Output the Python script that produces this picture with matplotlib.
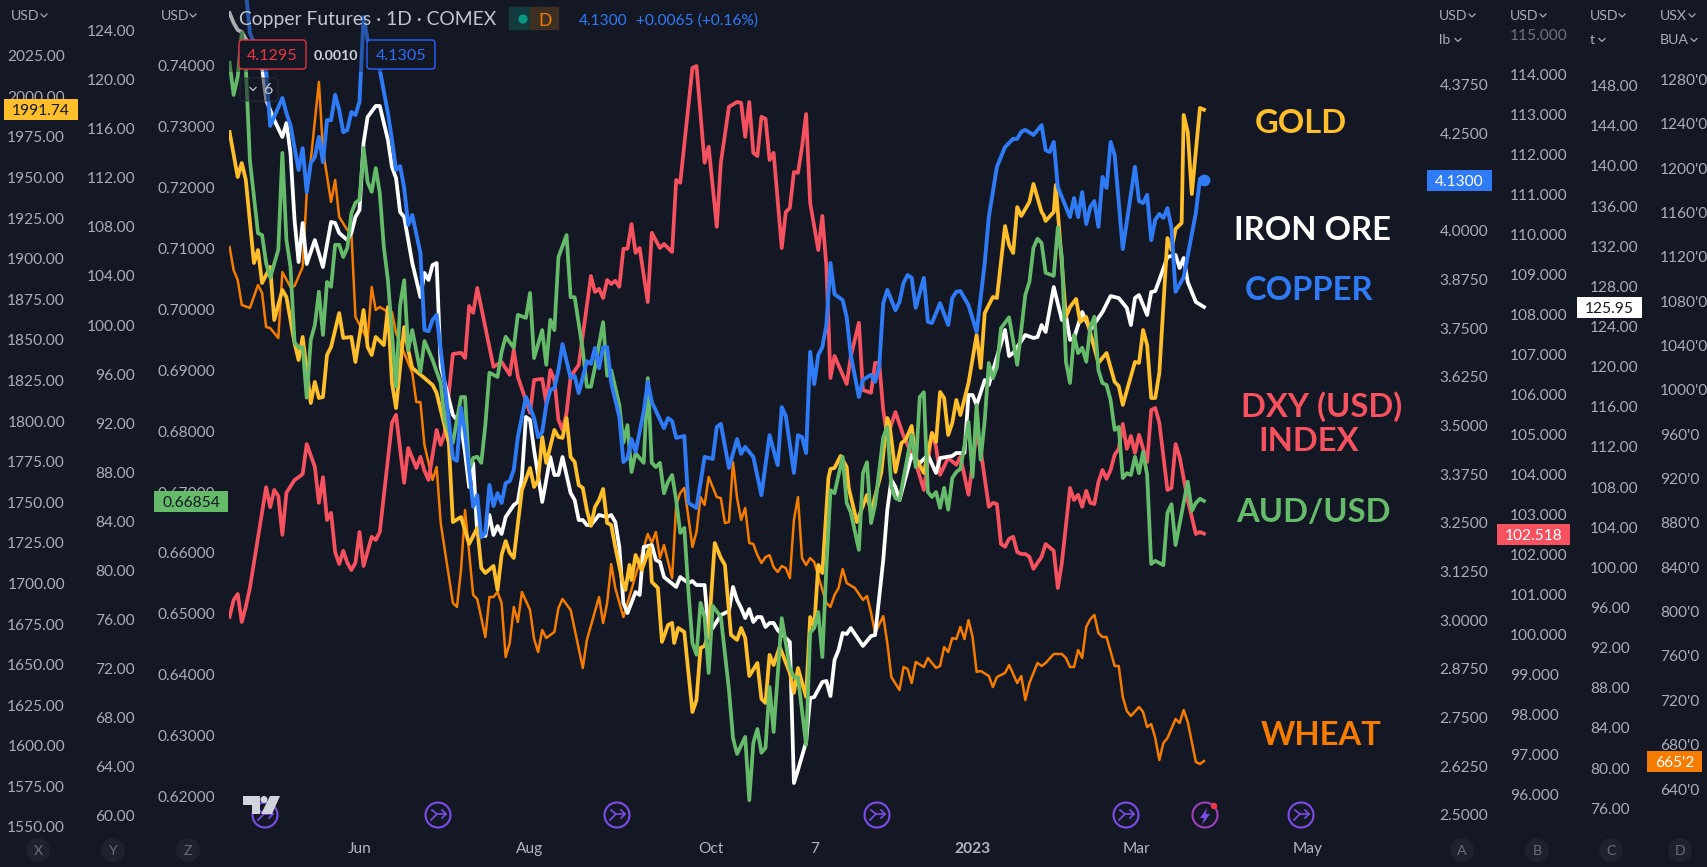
import numpy as np
import matplotlib
matplotlib.use("Agg")
import matplotlib.pyplot as plt
from matplotlib.patches import Rectangle, Circle, FancyBboxPatch, Polygon

# each series: (trading day counted from 1 Jun 2022, close on its own price scale)
dxy = np.array([
    (-32,100.44),(-31,100.86),(-30,101.01),(-29,100.31),(-28,100.69),(-27,101.16),(-23,103.68),(-22,103.18),
    (-21,103.61),(-20,103.46),(-19,102.49),(-18,103.54),(-16,103.86),(-15,103.93),(-14,104.01),(-13,104.76),
    (-11,104.19),(-10,103.29),(-9,103.93),(-8,102.86),(-7,103.04),(-6,102.06),(-5,101.76),(-4,102.09),
    (-3,101.79),(-2,101.61),(-1,101.79),(0,102.56),(1,101.71),(3,102.44),(4,102.36),(5,102.56),(8,105.29),
    (9,105.49),(11,103.79),(12,104.66),(14,104.16),(15,104.44),(16,104.09),(17,103.86),(19,105.11),(20,104.74),
    (21,105.04),(23,107.01),(25,107.04),(26,106.91),(27,108.21),(28,108.04),(29,108.66),(33,106.69),(35,106.81),
    (37,106.49),(38,107.11),(39,106.44),(42,105.54),(43,106.36),(45,106.39),(46,105.79),(47,106.61),(48,106.36),
    (49,105.36),(50,105.11),(51,105.54),(52,106.44),(54,106.74),(57,108.96),(58,108.56),(59,108.64),(60,108.41),
    (61,108.86),(62,108.76),(63,108.84),(64,108.69),(65,109.64),(66,109.64),(67,110.26),(68,109.54),(69,109.66),
    (71,108.31),(72,110.04),(74,109.66),(75,109.76),(77,109.56),(78,111.36),(79,111.29),(82,114.16),(83,114.21),
    (85,111.79),(86,112.19),(88,110.19),(89,111.79),(91,113.19),(93,113.31),(94,113.29),(95,112.44),(96,113.31),
    (97,112.04),(98,111.96),(99,112.94),(100,112.89),(101,111.86),(102,112.04),(104,109.66),(105,110.56),
    (106,110.66),(107,111.56),(108,111.54),(109,112.19),(110,113.01),(111,110.79),(113,109.61),(114,110.46),
    (115,109.19),(116,106.41),(117,106.96),(120,106.26),(121,106.94),(123,107.79),(124,106.11),(126,106.04),
    (127,106.79),(128,106.79),(129,105.61),(130,104.94),(132,105.56),(134,104.96),(137,104.29),(139,103.61),
    (141,105.04),(142,104.69),(143,103.99),(145,104.41),(147,104.24),(148,104.44),(150,103.49),(152,105.04),
    (153,104.61),(155,103.19),(156,103.29),(157,103.26),(158,102.26),(159,102.19),(160,102.39),(161,102.44),
    (162,102.06),(163,102.01),(164,102.01),(165,101.94),(166,101.64),(168,101.94),(169,102.26),(171,102.09),
    (172,101.16),(173,101.79),(175,103.66),(176,103.36),(177,103.49),(178,103.19),(179,103.59),(180,103.29),
    (181,103.26),(182,103.81),(183,104.11),(184,103.89),(185,104.11),(186,104.49),(187,104.64),(188,105.26),
    (189,104.64),(190,104.96),(191,104.54),(192,104.99),(194,104.31),(195,105.61),(196,105.66),(197,105.29),
    (199,103.61),(200,103.66),(201,104.76),(202,104.44),(204,103.36),(206,102.51),(207,102.56),(208,102.518),
])

audusd = np.array([
    (-32,.7405),(-31,.7352),(-30,.7382),(-29,.7454),(-28,.7398),(-27,.7245),(-25,.7125),(-24,.7122),(-23,.7076),
    (-22,.7052),(-20,.7098),(-19,.7257),(-18,.7114),(-17,.7070),(-16,.6946),(-15,.6937),(-14,.6938),(-13,.6855),
    (-12,.6950),(-11,.6974),(-10,.7029),(-9,.6958),(-8,.7045),(-7,.7037),(-6,.7106),(-5,.7106),(-4,.7086),
    (-3,.7101),(-2,.7158),(-1,.7175),(0,.7180),(1,.7265),(2,.7209),(3,.7193),(4,.7232),(5,.7191),(6,.7102),
    (7,.7048),(9,.6873),(10,.7007),(11,.7048),(12,.6933),(13,.6966),(15,.6897),(16,.6948),(18,.6917),(20,.6879),
    (21,.6818),(23,.6781),(25,.6856),(26,.6856),(27,.6736),(28,.6756),(29,.6758),(30,.6748),(31,.6810),(32,.6896),
    (34,.6889),(35,.6930),(36,.6955),(38,.6937),(39,.6991),(41,.6986),(42,.7027),(43,.6920),(45,.6966),(46,.6909),
    (47,.6983),(48,.6966),(49,.7086),(51,.7122),(52,.7020),(53,.7020),(55,.6933),(56,.6873),(57,.6873),(58,.6905),
    (60,.6979),(61,.6891),(62,.6900),(64,.6843),(65,.6781),(66,.6810),(67,.6733),(68,.6764),(70,.6748),(71,.6887),
    (72,.6748),(73,.6741),(74,.6748),(75,.6698),(76,.6717),(77,.6728),(78,.6687),(79,.6633),(80,.6641),(81,.6539),
    (82,.6452),(83,.6433),(84,.6518),(85,.6495),(86,.6403),(87,.6513),(89,.6495),(91,.6375),(92,.6296),(93,.6270),
    (95,.6298),(96,.6194),(97,.6288),(98,.6311),(99,.6272),(100,.6280),(101,.6380),(102,.6306),(104,.6493),
    (106,.6411),(107,.6396),(108,.6396),(110,.6285),(111,.6469),(112,.6477),(113,.6503),(114,.6429),(115,.6577),
    (116,.6703),(117,.6698),(119,.6758),(120,.6682),(121,.6667),(123,.6605),(124,.6731),(125,.6749),(126,.6649),
    (127,.6679),(129,.6790),(130,.6807),(131,.6708),(132,.6690),(133,.6687),(136,.6794),(137,.6741),(138,.6856),
    (139,.6864),(140,.6700),(141,.6692),(142,.6700),(143,.6674),(144,.6707),(145,.6671),(146,.6723),(147,.6733),
    (148,.6738),(150,.6815),(151,.6725),(152,.6843),(153,.6753),(154,.6818),(155,.6912),(156,.6887),(157,.6905),
    (158,.6969),(160,.6987),(162,.6909),(164,.7024),(165,.7045),(166,.7101),(167,.7116),(168,.7109),(169,.7060),
    (171,.7055),(172,.7135),(173,.7086),(174,.6914),(175,.6879),(176,.6958),(177,.6928),(178,.6937),(179,.6914),
    (180,.6971),(181,.6988),(182,.6900),(183,.6879),(184,.6876),(185,.6851),(186,.6802),(187,.6807),(188,.6723),
    (189,.6731),(190,.6728),(191,.6758),(192,.6731),(193,.6766),(194,.6728),(195,.6582),(196,.6587),(198,.6580),
    (199,.6666),(200,.6680),(201,.6613),(204,.6717),(205,.6669),(206,.6682),(207,.6689),(208,.66854),
])

copper = np.array([
    (-28,4.618),(-27,4.508),(-23,4.413),(-22,4.269),(-19,4.341),(-18,4.302),(-17,4.271),(-15,4.156),(-14,4.212),
    (-13,4.099),(-12,4.174),(-11,4.189),(-10,4.241),(-9,4.176),(-8,4.284),(-7,4.284),(-6,4.349),(-5,4.310),
    (-4,4.253),(-3,4.259),(-2,4.305),(-1,4.297),(0,4.331),(1,4.549),(2,4.490),(5,4.413),(7,4.302),(8,4.233),
    (9,4.156),(10,4.166),(11,4.110),(12,4.015),(13,4.040),(15,3.943),(16,3.745),(17,3.742),(18,3.771),(19,3.784),
    (20,3.694),(22,3.514),(23,3.416),(24,3.409),(25,3.545),(26,3.481),(28,3.291),(29,3.321),(30,3.213),(31,3.224),
    (32,3.347),(33,3.293),(34,3.326),(35,3.301),(36,3.352),(37,3.357),(38,3.386),(39,3.470),(41,3.573),(43,3.519),
    (44,3.470),(45,3.483),(46,3.552),(47,3.591),(48,3.596),(49,3.642),(50,3.709),(52,3.622),(53,3.627),(54,3.583),
    (56,3.665),(57,3.658),(58,3.699),(59,3.647),(60,3.701),(61,3.701),(62,3.609),(64,3.522),(65,3.406),(66,3.416),
    (67,3.465),(68,3.432),(70,3.535),(71,3.612),(72,3.560),(75,3.493),(76,3.519),(77,3.511),(78,3.468),(80,3.473),
    (81,3.301),(83,3.288),(85,3.419),(87,3.414),(88,3.496),(89,3.504),(91,3.391),(93,3.465),(94,3.427),(95,3.445),
    (97,3.419),(99,3.321),(101,3.475),(103,3.398),(104,3.547),(105,3.524),(107,3.378),(108,3.475),(109,3.470),
    (110,3.429),(111,3.689),(112,3.606),(113,3.681),(114,3.701),(115,3.758),(116,3.917),(117,3.837),(119,3.822),
    (120,3.778),(121,3.681),(123,3.573),(124,3.617),(126,3.630),(127,3.612),(128,3.650),(129,3.814),(130,3.848),
    (132,3.796),(133,3.817),(134,3.866),(135,3.886),(136,3.879),(137,3.802),(139,3.879),(140,3.766),(141,3.763),
    (143,3.814),(145,3.758),(146,3.827),(147,3.843),(148,3.845),(150,3.809),(152,3.740),(154,3.917),(155,4.035),
    (157,4.164),(159,4.215),(161,4.236),(162,4.236),(163,4.254),(164,4.259),(166,4.246),(168,4.271),(169,4.207),
    (170,4.202),(171,4.228),(172,4.112),(175,4.035),(176,4.084),(177,4.035),(178,4.099),(179,4.017),(180,4.061),
    (181,4.076),(182,4.010),(183,4.138),(184,4.110),(185,4.228),(186,4.194),(188,3.953),(191,4.164),(192,4.076),
    (193,4.071),(194,4.092),(195,3.976),(196,4.028),(197,4.043),(198,4.033),(199,4.058),(200,4.007),(201,3.843),
    (203,3.881),(206,4.046),(207,4.133),(208,4.130),
])

iron_ore = np.array([
    (-32,155.24),(-31,154.25),(-30,153.55),(-29,153.35),(-24,149.86),(-23,146.58),(-21,144.58),(-19,142.89),
    (-18,144.28),(-17,141.29),(-16,134.62),(-15,130.43),(-14,134.32),(-13,130.23),(-11,132.62),(-9,129.93),
    (-7,134.42),(-6,134.32),(-5,133.32),(-3,132.62),(-2,133.32),(-1,134.92),(0,135.61),(1,142.29),(2,144.88),
    (4,145.98),(5,145.98),(7,142.59),(8,139.90),(9,138.80),(10,135.41),(11,134.92),(13,130.33),(14,128.64),
    (15,126.94),(16,129.34),(17,128.64),(18,130.13),(19,130.33),(20,119.97),(23,115.19),(25,114.19),(26,111.40),
    (27,108.01),(28,110.40),(29,103.43),(31,103.13),(32,105.22),(33,103.23),(34,104.12),(35,103.33),(36,105.02),
    (38,106.22),(39,106.52),(40,109.01),(41,114.99),(42,114.69),(43,111.70),(45,106.52),(46,108.71),(47,111.00),
    (48,109.21),(49,109.21),(50,111.00),(52,107.41),(53,106.71),(54,104.72),(55,104.72),(56,104.22),(57,104.22),
    (59,105.22),(61,105.02),(62,105.22),(63,104.52),(64,102.03),(65,96.45),(66,95.45),(68,97.55),(69,97.25),
    (70,102.03),(72,102.23),(73,100.74),(74,100.54),(75,99.04),(78,98.05),(79,99.04),(81,98.44),(82,98.64),
    (83,98.24),(85,98.24),(86,93.56),(87,93.96),(89,95.25),(91,95.65),(92,98.05),(93,96.75),(94,95.95),(95,94.96),
    (96,95.85),(97,94.56),(98,95.05),(99,95.05),(100,94.06),(101,94.46),(102,94.46),(103,93.76),(106,92.56),
    (107,78.51),(108,79.81),(110,82.60),(111,86.98),(112,87.08),(114,88.58),(115,88.68),(116,87.18),(117,90.77),
    (118,91.77),(119,93.46),(120,93.36),(121,93.96),(124,92.17),(126,93.16),(127,93.26),(129,100.74),(130,105.72),
    (131,108.71),(132,108.01),(133,106.71),(136,111.20),(137,110.70),(138,110.40),(140,111.20),(142,109.41),
    (143,110.90),(146,111.10),(147,111.40),(149,111.40),(150,117.18),(151,117.18),(152,116.18),(154,118.67),
    (155,118.18),(157,120.97),(159,123.66),(160,121.06),(161,121.36),(164,123.16),(166,122.86),(167,122.96),
    (168,124.15),(169,123.46),(171,127.94),(173,124.65),(174,125.15),(175,122.66),(176,122.86),(178,125.45),
    (180,123.66),(183,125.45),(185,127.04),(187,126.84),(189,125.85),(190,124.15),(191,126.84),(192,127.14),
    (194,125.15),(195,127.44),(196,127.54),(197,128.64),(199,130.93),(201,131.13),(202,129.83),(203,130.83),
    (204,128.44),(206,126.45),(208,125.95),
])

gold = np.array([
    (-32,1978.0),(-30,1950.3),(-29,1958.9),(-28,1948.5),(-26,1897.3),(-25,1905.3),(-24,1885.0),(-22,1894.9),
    (-21,1862.2),(-19,1880.7),(-18,1876.4),(-16,1848.1),(-15,1837.6),(-14,1851.8),(-12,1811.1),(-11,1824.1),
    (-10,1814.2),(-9,1814.8),(-8,1840.7),(-7,1845.6),(-5,1866.5),(-4,1851.2),(-2,1851.8),(-1,1836.4),(1,1868.4),
    (2,1845.6),(3,1840.7),(4,1851.8),(6,1846.8),(7,1870.2),(8,1823.4),(9,1808.0),(11,1857.9),(12,1843.8),(13,1832.7),
    (16,1826.5),(18,1822.2),(19,1817.3),(20,1806.8),(22,1786.5),(23,1737.8),(25,1740.9),(27,1724.3),(29,1734.2),
    (30,1709.5),(31,1706.4),(33,1710.8),(34,1696.0),(35,1717.5),(36,1726.1),(37,1718.8),(38,1715.7),(40,1757.5),
    (42,1771.1),(43,1759.4),(44,1763.7),(45,1790.2),(46,1774.2),(48,1794.5),(49,1790.2),(50,1789.6),(51,1801.9),
    (52,1777.9),(53,1774.8),(54,1760.6),(55,1758.8),(56,1745.2),(57,1735.4),(58,1747.1),(59,1751.4),(60,1758.2),
    (61,1737.2),(62,1736.0),(63,1722.4),(64.7,1702.1),(65.5,1696.0),(66.5,1711.4),(67,1702.1),(68,1717.5),
    (69.5,1708.3),(71.5,1722.4),(72,1700.9),(73.5,1697.2),(74.5,1664.0),(76,1674.4),(77,1675.7),(77.5,1663.3),
    (78.5,1672.6),(80,1670.1),(82,1620.8),(83,1628.2),(84,1660.3),(85,1661.5),(86,1669.5),(87.5,1724.9),(89,1715.7),
    (90,1711.4),(91.5,1668.3),(93,1665.2),(94,1672.6),(95,1666.4),(96,1643.0),(98,1651.0),(99,1628.9),(100,1626.4),
    (101,1656.0),(102,1649.8),(103.5,1660.9),(106,1644.9),(107,1632.6),(108,1647.9),(110,1630.1),(111,1679.3),
    (112,1673.2),(113,1711.4),(114,1706.4),(115.5,1765.0),(116,1770.5),(117,1771.1),(118.5,1778.5),(120,1771.7),
    (120.5,1758.8),(122.5,1737.8),(125,1754.5),(126,1744.0),(128.5,1768.0),(130,1801.9),(130.5,1798.8),(132,1768.6),
    (133.5,1786.5),(134.5,1788.3),(136,1797.0),(137,1777.3),(139,1768.0),(141,1792.6),(142,1787.1),(143,1817.9),
    (144,1814.2),(145,1791.4),(146,1798.8),(147,1813.0),(148,1803.7),(150,1823.4),(152,1853.0),(153,1832.7),
    (154,1866.5),(156,1876.4),(157,1875.8),(159,1920.1),(160,1908.4),(161,1903.5),(162,1931.8),(163,1926.3),
    (165,1934.9),(166,1946.0),(168,1928.8),(168.5,1926.9),(169,1923.2),(171,1928.8),(171.5,1945.4),(174,1864.1),
    (175,1870.2),(176.5,1875.2),(177.5,1861.0),(179,1864.1),(180,1854.2),(182,1835.8),(184,1841.9),(186,1824.1),
    (187,1821.6),(188,1809.9),(191,1836.4),(192,1835.8),(193,1856.1),(194,1846.8),(195,1814.2),(196,1814.2),
    (197,1829.6),(199,1912.7),(200,1905.4),(201,1918.3),(202.5,1922.0),(203,1988.5),(204,1978.0),(205,1939.8),
    (207,1992.8),(208,1991.74),
])

wheat = np.array([
    (-32,1128.8),(-31,1108.0),(-30,1099.0),(-29,1076.5),(-27,1073.8),(-25,1094.5),(-24,1087.3),(-23,1056.6),
    (-22,1055.7),(-20,1046.7),(-19,1106.2),(-17,1092.7),(-16,1093.6),(-14,1110.7),(-13,1177.5),(-12,1207.2),
    (-10,1277.6),(-9,1216.2),(-7,1169.4),(-6,1189.2),(-5,1155.8),(-3,1144.1),(-2,1141.4),(-1,1065.7),(2,1045.0),
    (3,1092.7),(4,1072.0),(5,1074.7),(7,1070.2),(8,1070.2),(9,1051.2),(13,1015.2),(14,989.0),(15,989.0),(16,950.2),
    (18,918.7),(19,930.4),(20,879.9),(23,807.8),(24,804.2),(25,837.5),(26,891.6),(28,815.0),(29,811.4),(31,777.1),
    (32,813.2),(33,813.2),(34,817.7),(35,807.8),(36,759.1),(37,771.7),(38,804.2),(39,790.6),(40,817.7),(42,801.5),
    (43,775.3),(44,763.6),(45,783.4),(46,776.2),(48,781.6),(49,803.3),(50,811.4),(52,801.5),(55,749.2),(56,774.4),
    (59,813.2),(60,789.7),(61,807.8),(62,842.9),(63,821.3),(65,795.1),(71,870.0),(72,861.9),(73,871.8),(74,848.3),
    (75,860.1),(77,830.3),(78,896.1),(79,907.0),(80,911.5),(81,885.3),(82,858.3),(83,871.8),(84,903.3),(85,896.1),
    (86,921.4),(88,903.3),(89,902.4),(90,879.9),(91,880.8),(92,934.9),(93,902.4),(94,882.6),(95,893.4),(96,861.9),
    (97,861.0),(98,851.0),(99,843.8),(100,849.2),(101,851.0),(102,840.2),(103,835.7),(104,841.1),(105,839.3),
    (106,830.3),(107,882.6),(108,903.3),(109,848.3),(110,842.0),(111,848.3),(112,844.7),(114,819.5),(115,807.8),
    (116,804.2),(117,815.0),(118,821.3),(119,838.4),(120,825.8),(122,821.3),(124,810.5),(125,814.1),(126,798.8),
    (127,780.7),(129,796.0),(130,771.7),(131,741.0),(133,729.3),(134,750.1),(135,748.3),(136,735.6),(137,754.6),
    (139,750.1),(140,758.2),(142,749.2),(143,751.0),(144,768.1),(145,763.6),(146,776.2),(147,775.3),(148,786.2),
    (149,775.3),(150,792.4),(151,777.1),(152,745.6),(153,746.5),(155,742.0),(156,732.0),(157,741.0),(159,744.7),
    (160,751.9),(162,735.6),(163,742.0),(164,720.3),(165,735.6),(167,753.7),(168,751.0),(169,753.7),(171,761.8),
    (173,761.8),(174,758.2),(175,750.1),(176,750.1),(177,765.4),(178,758.2),(179,786.2),(180,793.3),(181,797.0),
    (182,780.7),(183,777.1),(184,777.1),(186,751.0),(187,751.0),(188,723.0),(189,710.4),(190,705.9),(192,714.0),
    (193,709.5),(194,695.9),(195,698.6),(196,686.0),(197,666.2),(198,681.5),(199,686.0),(201,703.2),(202,699.5),
    (203,711.3),(204,700.5),(206,664.4),(207,662.6),(208,665.25),
])

time_ticks = [0, 42, 86.6, 112.2, 150.9, 191.5, 233.5]
time_labels = ["Jun", "Aug", "Oct", "7", "2023", "Mar", "May"]

gold_ticks = np.arange(1550, 2026, 25)
y_ticks = np.arange(60, 125, 4)
aud_ticks = [0.62, 0.63, 0.64, 0.65, 0.66, 0.67, 0.68, 0.69, 0.70, 0.71, 0.72, 0.73, 0.74]
# 4.1250 sits under the last price tag in the reference
copper_ticks = [2.5, 2.625, 2.75, 2.875, 3.0, 3.125, 3.25, 3.375, 3.5, 3.625, 3.75, 3.875, 4.0, 4.25, 4.375]
dxy_ticks = np.arange(96, 116, 1)
iron_ticks = np.arange(76, 149, 4)
wheat_ticks = np.arange(640, 1281, 40)

BG = "#141824"
TICK = "#A9ACB5"
GOLD = "#FFBF2B"
GREEN = "#66BB6A"
BLUE = "#2F7BF6"
RED = "#F6515F"
ORANGE = "#F57C00"
WHITE = "#FFFFFF"
PURPLE = "#7B4CE8"
FONT = "Lato"

W, H = 1708, 867
PANE_L, PANE_R, PANE_B = 229, 1425, 827

plt.rcParams["font.family"] = FONT
fig = plt.figure(figsize=(W / 100, H / 100), dpi=100, facecolor=BG)
rect = [PANE_L / W, 1 - PANE_B / H, (PANE_R - PANE_L) / W, PANE_B / H]
xlim = ((PANE_L - 359.5) / 4.06, (PANE_R - 359.5) / 4.06)


def scale_axes(ylim, ticks, labels, side, offset_px):
    ax = fig.add_axes(rect, facecolor="none")
    ax.set_xlim(xlim)
    ax.set_ylim(ylim)
    for s in ax.spines.values():
        s.set_visible(False)
    ax.set_xticks([])
    ax.set_yticks(ticks)
    ax.set_yticklabels(labels)
    if side == "right":
        ax.yaxis.tick_right()
    ax.tick_params(axis="y", length=0, pad=offset_px * 0.72, labelsize=11.2, labelcolor=TICK)
    return ax


ax_gold = scale_axes((1550.0, 2059.3), gold_ticks, [f"{v:.2f}" for v in gold_ticks], "left", 164)
ax_y = scale_axes((59.08, 126.5), y_ticks, [f"{v:.2f}" for v in y_ticks], "left", 94)
ax_aud = scale_axes((0.6150, 0.7508), aud_ticks, [f"{v:.5f}" for v in aud_ticks], "left", 14)
ax_copper = scale_axes((2.4688, 4.5925), copper_ticks, [f"{v:.4f}" for v in copper_ticks], "right", 14.5)
ax_dxy = scale_axes((95.185, 115.86), dxy_ticks, [f"{v:.3f}" for v in dxy_ticks], "right", 85)
ax_iron = scale_axes((74.13, 156.54), iron_ticks, [f"{v:.2f}" for v in iron_ticks], "right", 165)
ax_wheat = scale_axes((605.8, 1351.5), wheat_ticks, [f"{v}'0" for v in wheat_ticks], "right", 235)
ax_dxy.get_yticklabels()[-1].set_alpha(0.6)

# draw order follows the platform: wheat at the back, copper in front
ax_wheat.plot(wheat[:, 0], wheat[:, 1], color=ORANGE, lw=1.8, solid_joinstyle="round")
ax_dxy.plot(dxy[:, 0], dxy[:, 1], color=RED, lw=2.7, solid_joinstyle="round")
ax_iron.plot(iron_ore[:, 0], iron_ore[:, 1], color=WHITE, lw=2.7, solid_joinstyle="round")
ax_gold.plot(gold[:, 0], gold[:, 1], color=GOLD, lw=2.7, solid_joinstyle="round")
ax_aud.plot(audusd[:, 0], audusd[:, 1], color=GREEN, lw=2.7, solid_joinstyle="round")
ax_copper.plot(copper[:, 0], copper[:, 1], color=BLUE, lw=2.8, solid_joinstyle="round")
ax_copper.plot(copper[-1, 0], copper[-1, 1], "o", color=BLUE, ms=7.5)

for z, ax in enumerate([ax_y, ax_wheat, ax_dxy, ax_iron]):
    ax.set_zorder(z)
ax_gold.set_zorder(7)
ax_aud.set_zorder(8)
ax_copper.set_zorder(9)

ax_wheat.set_xticks(time_ticks)
ax_wheat.set_xticklabels(time_labels)
ax_wheat.tick_params(axis="x", length=0, pad=11, labelsize=11.2, labelcolor="#B2B5BE")
ax_wheat.get_xticklabels()[4].set_fontweight("bold")

# overlay in screen pixels for the platform furniture
ui = fig.add_axes([0, 0, 1, 1], facecolor="none")
ui.set_xlim(0, W)
ui.set_ylim(H, 0)
ui.axis("off")
ui.set_zorder(20)


def chevron(x, y, c=TICK):
    ui.plot([x - 3, x, x + 3], [y - 1.5, y + 1.5, y - 1.5], color=c, lw=0.9)


for x, cx, label in [(11, 44, "USD"), (161, 193, "USD"), (1439, 1472, "USD"), (1510, 1543, "USD"),
                     (1590, 1622, "USD"), (1660, 1692, "USX")]:
    ui.text(x, 15.5, label, color=TICK, fontsize=10.2, va="center", ha="left")
    chevron(cx, 15.5)
for x, cx, label in [(1439, 1458, "lb"), (1590, 1602, "t"), (1660, 1694, "BUA")]:
    ui.text(x, 40, label, color=TICK, fontsize=10.2, va="center", ha="left")
    chevron(cx, 40)

# last price tags
for x0, x1, y0, y1, col, tc, label in [
    (4, 78, 99, 120, GOLD, BG, "1991.74"), (154, 228, 491, 512, GREEN, BG, "0.66854"),
    (1427, 1492, 170, 191, BLUE, WHITE, "4.1300"), (1497, 1570, 524, 545, RED, WHITE, "102.518"),
    (1577, 1642, 297, 318, WHITE, BG, "125.95"), (1647, 1702, 751, 772, ORANGE, WHITE, "665'2"),
]:
    ui.add_patch(Rectangle((x0, y0), x1 - x0, y1 - y0, fc=col, ec="none"))
    ui.text((x0 + x1) / 2, (y0 + y1) / 2, label, color=tc, fontsize=11.2, ha="center", va="center_baseline")

# legend header
ui.add_patch(Rectangle((229, 0), 280, 72, fc=BG, ec="none", alpha=0.35))
ui.text(239, 20, "Copper Futures · 1D · COMEX", color="#C3C6CE", fontsize=13.9, va="center", ha="left")
ui.add_patch(FancyBboxPatch((513, 11), 21, 15, boxstyle="round,pad=0,rounding_size=0", fc="#133a3c", ec="#133a3c", lw=6))
ui.add_patch(FancyBboxPatch((534, 11), 21, 15, boxstyle="round,pad=0,rounding_size=0", fc="#3d2f22", ec="#3d2f22", lw=6))
ui.add_patch(Circle((523, 19), 4.6, fc="#089981", ec="none"))
ui.text(545, 19, "D", color=ORANGE, fontsize=12.6, ha="center", va="center_baseline")
ui.text(579, 21, "4.1300", color=BLUE, fontsize=11.2, va="center", ha="left")
ui.text(636, 21, "+0.0065 (+0.16%)", color=BLUE, fontsize=11.2, va="center", ha="left")

ui.add_patch(FancyBboxPatch((239, 40), 67, 29, boxstyle="round,pad=0,rounding_size=3", fc=BG, ec="#E0323F", lw=1))
ui.text(272.5, 54.5, "4.1295", color="#F23645", fontsize=11.6, ha="center", va="center_baseline")
ui.text(336, 54.5, "0.0010", color="#D1D4DC", fontsize=10.2, ha="center", va="center_baseline", fontweight="bold")
ui.add_patch(FancyBboxPatch((367, 40), 68, 29, boxstyle="round,pad=0,rounding_size=3", fc=BG, ec="#2962FF", lw=1))
ui.text(401, 54.5, "4.1305", color="#2E6CF6", fontsize=11.6, ha="center", va="center_baseline")
ui.add_patch(FancyBboxPatch((240, 78), 38, 23, boxstyle="round,pad=0,rounding_size=3", fc=BG, ec="#2F3340", lw=1, alpha=0.55))
chevron(253, 89, "#C3C6CE")
ui.text(268, 89, "6", color="#C3C6CE", fontsize=11.5, ha="center", va="center_baseline")

# hand written series names
for x, y, label, col in [
    (1300.5, 121, "GOLD", GOLD), (1313, 228, "IRON ORE", WHITE), (1309, 288, "COPPER", BLUE),
    (1322, 404, "DXY (USD)", RED), (1309, 439, "INDEX", RED), (1313, 510, "AUD/USD", GREEN),
    (1321, 733, "WHEAT", ORANGE),
]:
    ui.text(x, y, label, color=col, fontsize=23.6, fontweight="bold", ha="center", va="center_baseline")

# event markers along the bottom
for x in [265, 438, 617, 877, 1126, 1301]:
    ui.add_patch(Circle((x, 815), 12.5, fc="none", ec=PURPLE, lw=1.5))
    ui.plot([x - 6, x - 1, x - 7], [810, 814, 820], color=PURPLE, lw=1.2)
    ui.plot([x - 1, x + 8], [814, 814], color=PURPLE, lw=1.2)
    ui.plot([x + 4, x + 8, x + 4], [810, 814, 818], color=PURPLE, lw=1.2)
ui.add_patch(Circle((1205, 815), 12.5, fc="none", ec="#9C3FB8", lw=1.5))
ui.add_patch(Polygon([(1207, 808), (1200, 818), (1204, 818), (1202, 825), (1210, 814), (1206, 814)], fc=PURPLE, ec="none"))
ui.add_patch(Circle((1214, 806), 3.2, fc="#F23645", ec="none"))

# platform logo
ui.add_patch(Polygon([(243, 796), (260, 796), (260, 814), (252, 814), (252, 805), (243, 805)], fc="#D1D4DC", ec="none", zorder=5))
ui.add_patch(Circle((264, 799.5), 3.5, fc="#D1D4DC", ec="none", zorder=5))
ui.add_patch(Polygon([(270, 796), (280, 796), (272, 814), (261, 814)], fc="#D1D4DC", ec="none", zorder=5))

# scale letters
for x, letter in [(38, "X"), (113, "Y"), (188, "Z"), (1462, "A"), (1537, "B"), (1611, "C"), (1680, "D")]:
    ui.add_patch(Circle((x, 850), 12, fc="#1E222D", ec="none"))
    ui.text(x, 850, letter, color="#6A6D78", fontsize=10.2, ha="center", va="center_baseline")

fig.savefig("out.png", dpi=100, facecolor=fig.get_facecolor())
